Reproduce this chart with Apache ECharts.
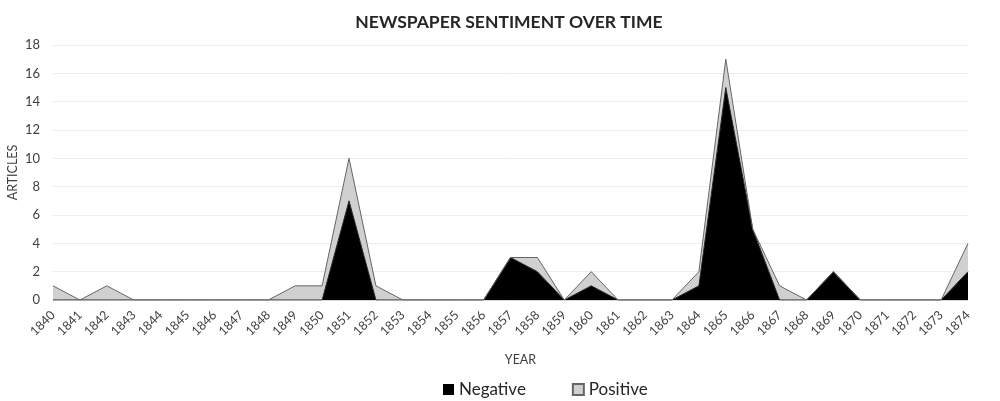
<!DOCTYPE html>
<html><head><meta charset="utf-8">
<script src="https://cdn.jsdelivr.net/npm/echarts@6/dist/echarts.min.js"></script>
<style>html,body{margin:0;padding:0;background:#fff}#c{width:1000px;height:401px}</style>
</head><body><div id="c"></div>
<script>
const years = ['1840','1841','1842','1843','1844','1845','1846','1847','1848','1849','1850','1851','1852','1853','1854','1855','1856','1857','1858','1859','1860','1861','1862','1863','1864','1865','1866','1867','1868','1869','1870','1871','1872','1873','1874'];
const negative = [0,0,0,0,0,0,0,0,0,0,0,7,0,0,0,0,0,3,2,0,1,0,0,0,1,15,5,0,0,2,0,0,0,0,2];
const positive = [1,0,1,0,0,0,0,0,0,1,1,3,1,0,0,0,0,0,1,0,1,0,0,0,1,2,0,1,0,0,0,0,0,0,2];
const yTicks = {min:0, max:18, interval:2};
const font = 'Lato, "Open Sans", sans-serif';
const chart = echarts.init(document.getElementById('c'));
chart.setOption({
  animation:false,
  title:{text:'NEWSPAPER SENTIMENT OVER TIME', left:504, textAlign:'center', top:8,
    textStyle:{fontFamily:font, fontSize:17.5, fontWeight:'bold', color:'#262626'}},
  grid:{left:53, right:32, top:45, bottom:101, containLabel:false, outerBoundsMode:'none'},
  legend:{top:376, left:438, itemWidth:11, itemHeight:11, itemGap:46,
    textStyle:{fontFamily:font, fontSize:17, color:'#262626'},
    data:[{name:'Negative', icon:'rect'},{name:'Positive', icon:'rect'}]},
  xAxis:{type:'category', data:years, boundaryGap:false,
    name:'YEAR', nameLocation:'middle', nameGap:53,
    nameTextStyle:{fontFamily:font, fontSize:12.5, color:'#404040', padding:[0,0,0,20]},
    axisLine:{lineStyle:{color:'#d9d9d9'}}, axisTick:{show:false},
    axisLabel:{rotate:45, interval:0, fontFamily:font, fontSize:12.5, color:'#404040', margin:13}},
  yAxis:{type:'value', min:yTicks.min, max:yTicks.max, interval:yTicks.interval,
    name:'ARTICLES', nameLocation:'middle', nameGap:34, nameMoveOverlap:false,
    nameTextStyle:{fontFamily:font, fontSize:12.5, color:'#404040'},
    axisLine:{show:false}, axisTick:{show:false},
    splitLine:{lineStyle:{color:'#ececec'}},
    axisLabel:{fontFamily:font, fontSize:13, color:'#404040', margin:13}},
  series:[
    {name:'Negative', type:'line', stack:'s', data:negative, symbol:'none',
      lineStyle:{color:'#222', width:1}, itemStyle:{color:'#000'},
      areaStyle:{color:'#000', opacity:1}},
    {name:'Positive', type:'line', stack:'s', data:positive, symbol:'none',
      lineStyle:{color:'#666', width:1}, itemStyle:{color:'#d0d0d0', borderColor:'#666', borderWidth:1},
      areaStyle:{color:'#d0d0d0', opacity:1}}
  ]
});
</script></body></html>
